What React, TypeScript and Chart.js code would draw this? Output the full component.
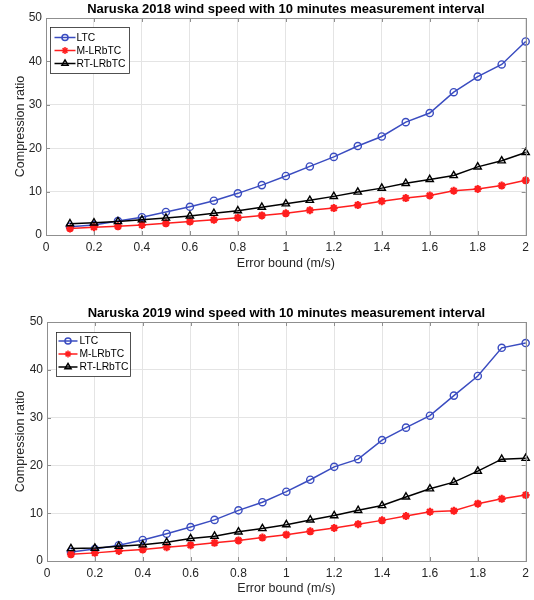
import React, { useEffect, useRef } from 'react';
import { Chart, registerables } from 'chart.js';
import { drawPoint } from 'chart.js/helpers';

Chart.register(...registerables);

// ---------- data ----------
const errorBounds = [0.1, 0.2, 0.3, 0.4, 0.5, 0.6, 0.7, 0.8, 0.9, 1.0, 1.1, 1.2, 1.3, 1.4, 1.5, 1.6, 1.7, 1.8, 1.9, 2.0];

const ltc2018 = [1.9, 2.3, 3.2, 4.1, 5.3, 6.5, 7.9, 9.6, 11.5, 13.6, 15.8, 18.0, 20.5, 22.7, 26.0, 28.1, 32.9, 36.5, 39.3, 44.6];
const mlrbtc2018 = [1.5, 1.8, 2.0, 2.3, 2.7, 3.1, 3.5, 4.0, 4.5, 5.0, 5.7, 6.2, 6.9, 7.8, 8.5, 9.1, 10.2, 10.6, 11.4, 12.6];
const rtlrbtc2018 = [2.6, 2.8, 3.1, 3.5, 3.9, 4.4, 5.0, 5.6, 6.4, 7.2, 8.0, 8.9, 9.9, 10.8, 11.9, 12.8, 13.7, 15.7, 17.1, 19.0];

const ltc2019 = [1.9, 2.5, 3.3, 4.4, 5.7, 7.1, 8.6, 10.6, 12.3, 14.5, 17.0, 19.7, 21.3, 25.3, 27.9, 30.4, 34.6, 38.7, 44.6, 45.6];
const mlrbtc2019 = [1.4, 1.7, 2.1, 2.4, 2.9, 3.3, 3.8, 4.3, 4.9, 5.5, 6.2, 6.9, 7.7, 8.5, 9.4, 10.3, 10.5, 12.0, 13.0, 13.8];
const rtlrbtc2019 = [2.6, 2.7, 3.1, 3.4, 3.9, 4.7, 5.2, 6.1, 6.8, 7.6, 8.6, 9.5, 10.6, 11.6, 13.4, 15.1, 16.5, 18.8, 21.3, 21.5];

const seriesNames = ['LTC', 'M-LRbTC', 'RT-LRbTC'];
const xTicks = [0, 0.2, 0.4, 0.6, 0.8, 1, 1.2, 1.4, 1.6, 1.8, 2];
const xTickLabels = ['0', '0.2', '0.4', '0.6', '0.8', '1', '1.2', '1.4', '1.6', '1.8', '2'];
const yTicks = [0, 10, 20, 30, 40, 50];
const yTickLabels = ['0', '10', '20', '30', '40', '50'];
const titles = [
  'Naruska 2018 wind speed with 10 minutes measurement interval',
  'Naruska 2019 wind speed with 10 minutes measurement interval',
];
const xTitle = 'Error bound (m/s)';
const yTitle = 'Compression ratio';

// ---------- styles ----------
const FONT = '"Liberation Sans", Arial, Helvetica, sans-serif';
const COLORS = ['#3a4cc0', '#ff1e1e', '#000000'];
const POINT_STYLES = ['circle', 'star', 'triangle'];
const POINT_RADII = [3.6, 4, 4.2];
const BOX_COLOR = '#8f8f8f';
const GRID_COLOR = '#e4e4e4';
const TEXT_COLOR = '#262626';

type Layout = {
  top: number;
  height: number;
  padTop: number;
  leftW: number;
  bottomH: number;
  xTitlePad: number;
  legend: { dx: number; dy: number; w: number; h: number; lineX0: number; lineX1: number; textX: number; row0: number; rowGap: number };
};

const layouts: Layout[] = [
  {
    top: 0, height: 280, padTop: 18, leftW: 46, bottomH: 45, xTitlePad: 8.5,
    legend: { dx: 4, dy: 9, w: 79, h: 46, lineX0: 4, lineX1: 25, textX: 26, row0: 10, rowGap: 13 },
  },
  {
    top: 290, height: 310, padTop: 32, leftW: 47, bottomH: 39, xTitlePad: 3.5,
    legend: { dx: 9, dy: 10, w: 74, h: 44, lineX0: 2, lineX1: 21, textX: 23, row0: 8.5, rowGap: 13 },
  },
];

function makeFramePlugin(title: string, L: Layout) {
  return {
    id: 'matlabFrame',
    afterDatasetsDraw(chart: any) {
      const { ctx, chartArea } = chart;
      const { left, right, top, bottom } = chartArea;
      const xs = chart.scales.x;
      const ys = chart.scales.y;
      ctx.save();
      ctx.strokeStyle = BOX_COLOR;
      ctx.lineWidth = 1;
      ctx.strokeRect(Math.round(left) + 0.5, Math.round(top) + 0.5, Math.round(right - left), Math.round(bottom - top));
      const tl = 4;
      ctx.beginPath();
      xTicks.forEach((v) => {
        const px = Math.round(xs.getPixelForValue(v)) + 0.5;
        ctx.moveTo(px, bottom);
        ctx.lineTo(px, bottom - tl);
        ctx.moveTo(px, top);
        ctx.lineTo(px, top + tl);
      });
      yTicks.forEach((v) => {
        const py = Math.round(ys.getPixelForValue(v)) + 0.5;
        ctx.moveTo(left, py);
        ctx.lineTo(left + tl, py);
        ctx.moveTo(right, py);
        ctx.lineTo(right - tl, py);
      });
      ctx.stroke();
      ctx.restore();
    },
    afterDraw(chart: any) {
      const { ctx, chartArea } = chart;
      const { left, right, top } = chartArea;
      ctx.save();
      // title
      ctx.font = `bold 13px ${FONT}`;
      ctx.fillStyle = '#000';
      ctx.textAlign = 'center';
      ctx.textBaseline = 'middle';
      ctx.fillText(title, (left + right) / 2, top - 9);
      // legend
      const lg = L.legend;
      const bx = Math.round(left + lg.dx) + 0.5;
      const by = Math.round(top + lg.dy) + 0.5;
      ctx.fillStyle = '#ffffff';
      ctx.fillRect(bx, by, lg.w, lg.h);
      ctx.strokeStyle = '#262626';
      ctx.lineWidth = 0.8;
      ctx.strokeRect(bx, by, lg.w, lg.h);
      chart.data.datasets.forEach((ds: any, i: number) => {
        const ry = by + lg.row0 + i * lg.rowGap;
        ctx.strokeStyle = ds.borderColor;
        ctx.lineWidth = 1.5;
        ctx.beginPath();
        ctx.moveTo(bx + lg.lineX0, ry);
        ctx.lineTo(bx + lg.lineX1, ry);
        ctx.stroke();
        ctx.fillStyle = ds.pointBackgroundColor;
        drawPoint(ctx, { pointStyle: ds.pointStyle, rotation: 0, radius: ds.pointRadius * 0.85, borderWidth: 1.4 }, bx + (lg.lineX0 + lg.lineX1) / 2, ry);
        ctx.fillStyle = '#000';
        ctx.font = `10.3px ${FONT}`;
        ctx.textAlign = 'left';
        ctx.textBaseline = 'middle';
        ctx.fillText(ds.label, bx + lg.textX, ry + 0.5);
      });
      ctx.restore();
    },
  };
}

function buildConfig(series: number[][], title: string, L: Layout): any {
  const datasets = series.map((vals, i) => ({
    label: seriesNames[i],
    data: errorBounds.map((x, j) => ({ x, y: vals[j] })),
    borderColor: COLORS[i],
    backgroundColor: COLORS[i],
    pointBackgroundColor: i === 1 ? COLORS[i] : 'rgba(0,0,0,0)',
    pointBorderColor: COLORS[i],
    pointStyle: POINT_STYLES[i],
    pointRadius: POINT_RADII[i],
    pointBorderWidth: i === 1 ? 2.2 : 1.4,
    borderWidth: 1.5,
    tension: 0,
    clip: false,
    order: 3 - i,
  }));
  return {
    type: 'line',
    data: { datasets },
    options: {
      animation: false,
      responsive: false,
      maintainAspectRatio: false,
      devicePixelRatio: 1,
      layout: { padding: { top: L.padTop, right: 7, left: 0, bottom: 0 } },
      plugins: { legend: { display: false }, tooltip: { enabled: false }, title: { display: false } },
      scales: {
        x: {
          type: 'linear',
          min: 0,
          max: 2,
          afterBuildTicks: (s: any) => {
            s.ticks = xTicks.map((v) => ({ value: v }));
          },
          afterFit: (s: any) => {
            s.height = L.bottomH;
          },
          ticks: {
            autoSkip: false,
            maxRotation: 0,
            padding: 5,
            color: TEXT_COLOR,
            font: { family: FONT, size: 12 },
            callback: (v: number) => xTickLabels[xTicks.indexOf(Math.round(v * 10) / 10)] ?? String(v),
          },
          grid: { color: GRID_COLOR, drawTicks: false, lineWidth: 1 },
          border: { display: false },
          title: {
            display: true,
            text: xTitle,
            color: TEXT_COLOR,
            font: { family: FONT, size: 12.5 },
            padding: { top: 0, bottom: L.xTitlePad },
          },
        },
        y: {
          type: 'linear',
          min: 0,
          max: 50,
          afterBuildTicks: (s: any) => {
            s.ticks = yTicks.map((v) => ({ value: v }));
          },
          afterFit: (s: any) => {
            s.width = L.leftW;
          },
          ticks: {
            autoSkip: false,
            padding: 4,
            color: TEXT_COLOR,
            font: { family: FONT, size: 12 },
            callback: (v: number) => yTickLabels[yTicks.indexOf(v)] ?? String(v),
          },
          grid: { color: GRID_COLOR, drawTicks: false, lineWidth: 1 },
          border: { display: false },
          title: {
            display: true,
            text: yTitle,
            color: TEXT_COLOR,
            font: { family: FONT, size: 12.5 },
            padding: { top: 13.5, bottom: 0 },
          },
        },
      },
    },
    plugins: [makeFramePlugin(title, L)],
  };
}

function ChartPanel({ series, title, L }: { series: number[][]; title: string; L: Layout }) {
  const ref = useRef<HTMLCanvasElement | null>(null);
  useEffect(() => {
    if (!ref.current) return;
    const chart = new Chart(ref.current, buildConfig(series, title, L));
    return () => chart.destroy();
  }, []);
  return (
    <canvas
      ref={ref}
      width={534}
      height={L.height}
      style={{ position: 'absolute', left: 0, top: L.top, width: 534, height: L.height, display: 'block' }}
    />
  );
}

export default function App() {
  useEffect(() => {
    document.body.style.margin = '0';
    document.body.style.background = '#ffffff';
  }, []);
  return (
    <div style={{ position: 'relative', width: 534, height: 600, background: '#fff', overflow: 'hidden' }}>
      <ChartPanel series={[ltc2018, mlrbtc2018, rtlrbtc2018]} title={titles[0]} L={layouts[0]} />
      <ChartPanel series={[ltc2019, mlrbtc2019, rtlrbtc2019]} title={titles[1]} L={layouts[1]} />
    </div>
  );
}
